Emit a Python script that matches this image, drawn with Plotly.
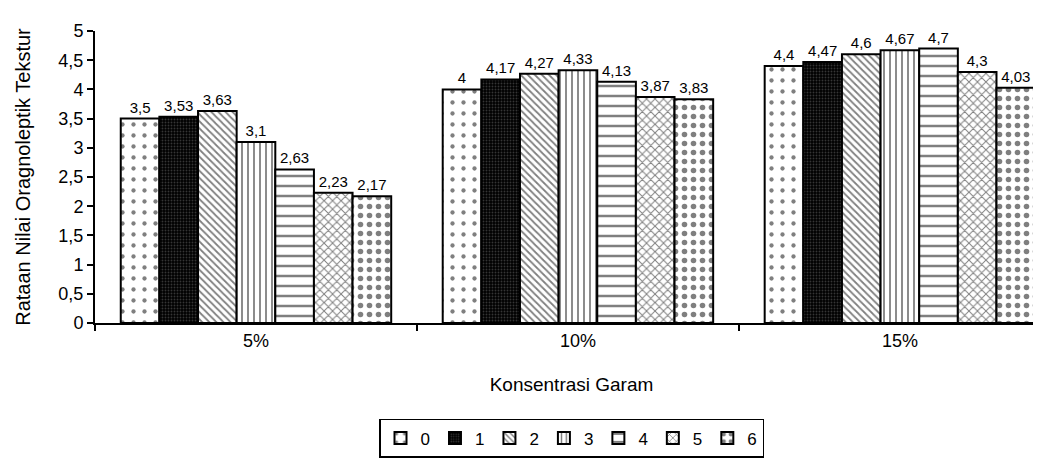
import plotly.graph_objects as go

categories = ["5%", "10%", "15%"]
series_names = ["0", "1", "2", "3", "4", "5", "6"]
values = {
    "0": [3.5, 4.0, 4.4],
    "1": [3.53, 4.17, 4.47],
    "2": [3.63, 4.27, 4.6],
    "3": [3.1, 4.33, 4.67],
    "4": [2.63, 4.13, 4.7],
    "5": [2.23, 3.87, 4.3],
    "6": [2.17, 3.83, 4.03],
}
y_ticks = [0, 0.5, 1, 1.5, 2, 2.5, 3, 3.5, 4, 4.5, 5]

patterns = {
    "0": dict(shape=".", bgcolor="white", fgcolor="black", size=11, solidity=0.12),
    "1": dict(shape=".", bgcolor="black", fgcolor="#6a6a6a", size=3, solidity=0.3),
    "2": dict(shape="\\", bgcolor="white", fgcolor="black", size=5, solidity=0.35),
    "3": dict(shape="|", bgcolor="white", fgcolor="black", size=6, solidity=0.3),
    "4": dict(shape="-", bgcolor="white", fgcolor="black", size=10, solidity=0.25),
    "5": dict(shape="x", bgcolor="white", fgcolor="black", size=6, solidity=0.3),
    "6": dict(shape=".", bgcolor="white", fgcolor="black", size=9, solidity=0.3),
}

font_family = "Liberation Sans, Arial, sans-serif"


def fmt(v):
    return f"{v:g}".replace(".", ",")


fig = go.Figure()
for name in series_names:
    vals = values[name]
    fig.add_trace(go.Bar(
        x=categories, y=vals, name=name,
        text=[fmt(v) for v in vals],
        textposition="outside", cliponaxis=False,
        textfont=dict(size=15, color="black", family=font_family),
        marker=dict(color="white", line=dict(color="black", width=2),
                    pattern=patterns[name]),
    ))

fig.update_layout(
    width=1041, height=466,
    margin=dict(l=87, r=1, t=23, b=151),
    barmode="group", bargap=0.16, bargroupgap=0,
    separators=",.",
    plot_bgcolor="white", paper_bgcolor="white",
    font=dict(family=font_family, color="black", size=18),
    showlegend=True,
    legend=dict(orientation="h", x=0.5, xanchor="center", y=-0.395, yanchor="middle",
                bordercolor="black", borderwidth=1.5, font=dict(size=17),
                itemwidth=30, traceorder="normal"),
)
fig.update_xaxes(
    range=[-0.5, 2.46], showline=True, linecolor="black", linewidth=2,
    ticks="outside", tickson="boundaries", ticklen=6, tickcolor="black", tickwidth=2,
    tickfont=dict(size=18),
    title=dict(text="Konsentrasi Garam", font=dict(size=19), standoff=28),
)
fig.update_yaxes(
    range=[0, 5], tickvals=y_ticks, showline=True, linecolor="black", linewidth=2,
    ticks="outside", ticklen=6, tickcolor="black", tickwidth=2,
    showgrid=False, zeroline=False,
    tickfont=dict(size=18),
    title=dict(text="Rataan Nilai Oragnoleptik Tekstur", font=dict(size=20), standoff=22),
)

fig.write_html("out.html")
